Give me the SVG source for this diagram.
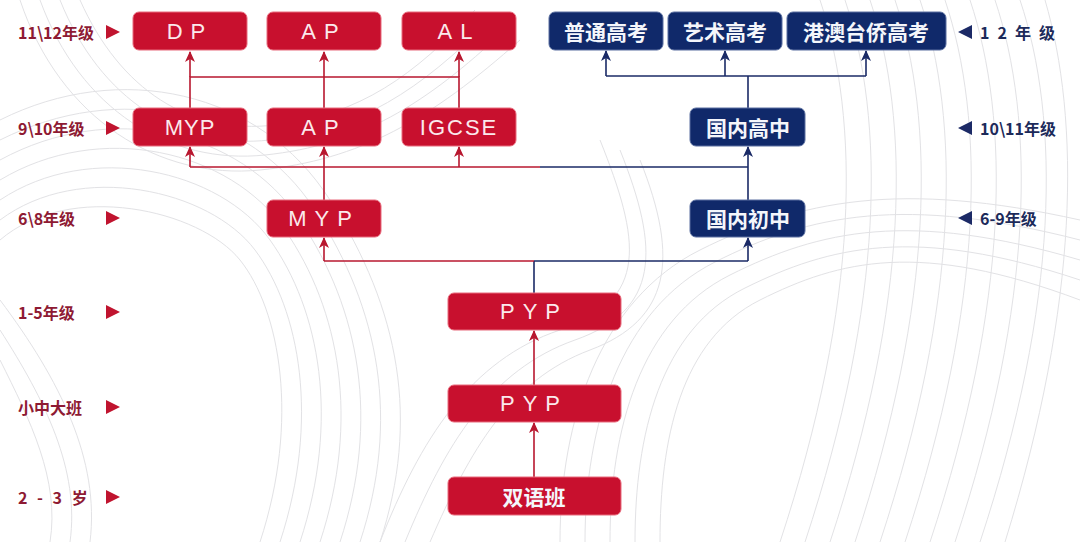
<svg xmlns="http://www.w3.org/2000/svg" width="1080" height="542" viewBox="0 0 1080 542">
<defs>
<style>
.bg{fill:none;stroke:#e2e2e5;stroke-width:1}
.rbox{fill:#c8102e;stroke:#e86a7c;stroke-width:1}
.nbox{fill:#10296a;stroke:#5a6fa0;stroke-width:1}
.bt{font-family:"Liberation Sans","Noto Sans CJK SC",sans-serif;font-size:22px;fill:#fbe9ec;text-anchor:middle;dominant-baseline:central}
.ct{font-family:"Noto Sans CJK SC",sans-serif;font-weight:bold;font-size:21px;fill:#f4f6fb;text-anchor:middle;dominant-baseline:central}
.ll{font-family:"Noto Sans CJK SC",sans-serif;font-weight:bold;font-size:16px;fill:#8e1a33;dominant-baseline:central}
.rl{font-family:"Noto Sans CJK SC",sans-serif;font-weight:bold;font-size:16px;fill:#1c2a5a;dominant-baseline:central}
.rc{fill:none;stroke:#b8172f;stroke-width:1.6}
.nc{fill:none;stroke:#1a2a66;stroke-width:1.6}
.ra{fill:none;stroke:#b8172f;stroke-width:1.6;marker-end:url(#ar)}
.na{fill:none;stroke:#1a2a66;stroke-width:1.6;marker-end:url(#an)}
.ltri{fill:#c0142f}
.rtri{fill:#1c2a66}
</style>
<marker id="ar" markerWidth="12" markerHeight="12" refX="10" refY="6" orient="auto" markerUnits="userSpaceOnUse">
<path d="M0,1 L11,6 L0,11 L3,6 z" fill="#b8172f"/>
</marker>
<marker id="an" markerWidth="12" markerHeight="12" refX="10" refY="6" orient="auto" markerUnits="userSpaceOnUse">
<path d="M0,1 L11,6 L0,11 L3,6 z" fill="#1a2a66"/>
</marker>
</defs>
<rect width="1080" height="542" fill="#ffffff"/>
<g id="background">
<path class="bg" d="M0,120 C120,60 260,90 330,200 S420,420 380,542"/>
<path class="bg" d="M0,140 C120,80 250,110 315,210 S400,420 360,542"/>
<path class="bg" d="M0,160 C110,100 240,130 300,220 S380,420 340,542"/>
<path class="bg" d="M0,180 C100,120 230,150 285,230 S360,420 320,542"/>
<path class="bg" d="M0,200 C90,140 220,170 270,240 S340,420 300,542"/>
<path class="bg" d="M0,220 C80,160 210,190 255,250 S320,420 280,542"/>
<path class="bg" d="M0,240 C70,180 200,210 240,260 S300,420 260,542"/>
<path class="bg" d="M20,0 C60,120 160,180 260,170 S430,120 520,40"/>
<path class="bg" d="M40,0 C80,110 170,165 265,155 S425,105 505,30"/>
<path class="bg" d="M60,0 C100,100 180,150 270,140 S420,90 490,20"/>
<path class="bg" d="M80,0 C120,90 190,135 275,125 S415,75 475,10"/>
<path class="bg" d="M560,542 C560,420 600,300 700,250 S900,180 1080,220"/>
<path class="bg" d="M585,542 C585,425 620,310 715,262 S905,195 1080,240"/>
<path class="bg" d="M610,542 C610,430 640,320 730,275 S910,210 1080,260"/>
<path class="bg" d="M635,542 C635,435 660,330 745,288 S915,225 1080,280"/>
<path class="bg" d="M660,542 C660,440 680,340 760,300 S920,240 1080,300"/>
<path class="bg" d="M820,0 C860,120 860,300 780,542"/>
<path class="bg" d="M845,0 C885,120 885,300 805,542"/>
<path class="bg" d="M870,0 C910,120 910,300 830,542"/>
<path class="bg" d="M895,0 C935,120 935,300 855,542"/>
<path class="bg" d="M920,0 C960,120 960,300 880,542"/>
<path class="bg" d="M945,0 C985,120 985,300 905,542"/>
<path class="bg" d="M970,0 C1010,120 1010,300 930,542"/>
<path class="bg" d="M995,0 C1035,120 1035,300 955,542"/>
<path class="bg" d="M1020,0 C1060,120 1060,300 980,542"/>
<path class="bg" d="M1045,0 C1080,120 1080,300 1005,542"/>
<path class="bg" d="M380,542 C420,440 470,360 560,330 S640,240 600,140"/>
<path class="bg" d="M405,542 C445,445 490,370 575,340 S660,250 620,150"/>
<path class="bg" d="M430,542 C470,450 510,380 590,350 S680,260 640,160"/>
<path class="bg" d="M0,300 C60,380 100,460 90,542"/>
<path class="bg" d="M0,330 C45,400 80,470 70,542"/>
<path class="bg" d="M0,360 C30,420 60,480 50,542"/>
</g>
<g id="connectors">
<path class="rc" d="M190,108 V77 H459 V108"/>
<path class="ra" d="M190,77 V52"/>
<path class="ra" d="M324,108 V52"/>
<path class="ra" d="M459,77 V52"/>
<path class="rc" d="M190,167 H540"/>
<path class="nc" d="M540,167 H748"/>
<path class="ra" d="M190,167 V147"/>
<path class="ra" d="M459,167 V147"/>
<path class="ra" d="M324,200 V147"/>
<path class="nc" d="M534,293 V261"/>
<path class="rc" d="M324,261 H534"/>
<path class="nc" d="M534,261 H748"/>
<path class="ra" d="M324,261 V238"/>
<path class="na" d="M748,261 V238"/>
<path class="na" d="M748,200 V147"/>
<path class="nc" d="M748,108 V76"/>
<path class="nc" d="M606,76 H866"/>
<path class="na" d="M606,76 V51"/>
<path class="na" d="M725,76 V51"/>
<path class="na" d="M866,76 V51"/>
<path class="ra" d="M534,385 V331"/>
<path class="ra" d="M534,477 V423"/>
</g>
<g id="labels-left">
<text class="ll" x="18" y="32">11\12年级</text><polygon class="ltri" points="106,25 120,32 106,39"/>
<text class="ll" x="18" y="128">9\10年级</text><polygon class="ltri" points="106,121 120,128 106,135"/>
<text class="ll" x="18" y="218">6\8年级</text><polygon class="ltri" points="106,211 120,218 106,225"/>
<text class="ll" x="18" y="312">1-5年级</text><polygon class="ltri" points="106,305 120,312 106,319"/>
<text class="ll" x="18" y="407">小中大班</text><polygon class="ltri" points="106,400 120,407 106,414"/>
<text class="ll" x="18" y="497" letter-spacing="3">2 - 3 岁</text><polygon class="ltri" points="106,490 120,497 106,504"/>
</g>
<g id="labels-right">
<polygon class="rtri" points="972,25 958,32 972,39"/><text class="rl" x="980" y="32" letter-spacing="8">12年级</text>
<polygon class="rtri" points="972,121 958,128 972,135"/><text class="rl" x="980" y="128">10\11年级</text>
<polygon class="rtri" points="972,211 958,218 972,225"/><text class="rl" x="980" y="218">6-9年级</text>
</g>
<g id="node-dp"><rect class="rbox" x="133" y="12" width="114" height="38" rx="6"/><text class="bt" x="190" y="31" letter-spacing="8">DP</text></g>
<g id="node-ap1"><rect class="rbox" x="267" y="12" width="114" height="38" rx="6"/><text class="bt" x="324" y="31" letter-spacing="8">AP</text></g>
<g id="node-al"><rect class="rbox" x="402" y="12" width="114" height="38" rx="6"/><text class="bt" x="459" y="31" letter-spacing="8">AL</text></g>
<g id="node-gaokao"><rect class="nbox" x="549" y="12" width="114" height="38" rx="6"/><text class="ct" x="606" y="31">普通高考</text></g>
<g id="node-yishu"><rect class="nbox" x="668" y="12" width="114" height="38" rx="6"/><text class="ct" x="725" y="31">艺术高考</text></g>
<g id="node-gangao"><rect class="nbox" x="787" y="12" width="159" height="38" rx="6"/><text class="ct" x="866" y="31">港澳台侨高考</text></g>
<g id="node-myp2"><rect class="rbox" x="133" y="108" width="114" height="38" rx="6"/><text class="bt" x="190" y="127" letter-spacing="1">MYP</text></g>
<g id="node-ap2"><rect class="rbox" x="267" y="108" width="114" height="38" rx="6"/><text class="bt" x="324" y="127" letter-spacing="8">AP</text></g>
<g id="node-igcse"><rect class="rbox" x="402" y="108" width="114" height="38" rx="6"/><text class="bt" x="459" y="127" letter-spacing="2">IGCSE</text></g>
<g id="node-gaozhong"><rect class="nbox" x="690" y="108" width="115" height="38" rx="6"/><text class="ct" x="748" y="127">国内高中</text></g>
<g id="node-myp3"><rect class="rbox" x="267" y="200" width="114" height="37" rx="6"/><text class="bt" x="324" y="218" letter-spacing="8">MYP</text></g>
<g id="node-chuzhong"><rect class="nbox" x="690" y="200" width="115" height="37" rx="6"/><text class="ct" x="748" y="218">国内初中</text></g>
<g id="node-pyp1"><rect class="rbox" x="448" y="293" width="173" height="37" rx="6"/><text class="bt" x="534" y="311" letter-spacing="8">PYP</text></g>
<g id="node-pyp2"><rect class="rbox" x="448" y="385" width="173" height="37" rx="6"/><text class="bt" x="534" y="403" letter-spacing="8">PYP</text></g>
<g id="node-shuangyu"><rect class="rbox" x="448" y="477" width="173" height="38" rx="6"/><text class="ct" x="534" y="496" fill="#fbe9ec">双语班</text></g>
</svg>
